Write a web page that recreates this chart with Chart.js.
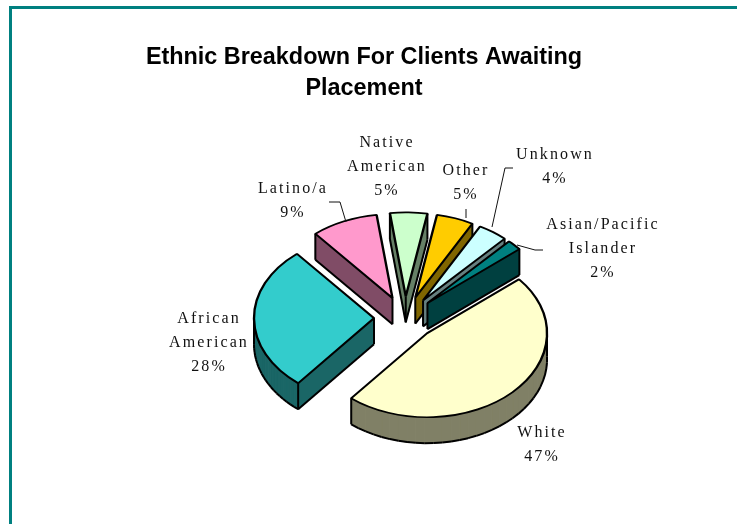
<!DOCTYPE html>
<html>
<head>
<meta charset="utf-8">
<script src="https://cdn.jsdelivr.net/npm/chart.js@4/dist/chart.umd.min.js"></script>
<style>
  html, body { margin: 0; padding: 0; background: #fff; overflow: hidden; }
  #wrap { position: relative; width: 737px; height: 524px; }
  #frame { position: absolute; left: 9px; top: 6px; right: 0; bottom: 0;
           border-top: 3px solid #008080; border-left: 3px solid #008080; }
  canvas { position: absolute; left: 0; top: 0; }
</style>
</head>
<body>
<div id="wrap">
  <div id="frame"></div>
  <canvas id="chart" width="737" height="524"></canvas>
</div>
<script>
const categories = ['White', 'African American', 'Latino/a', 'Native American', 'Other', 'Unknown', 'Asian/Pacific Islander'];
const percents = [47, 28, 9, 5, 5, 4, 2];
const topColors = ['#FFFFCC', '#33CCCC', '#FF99CC', '#CCFFCC', '#FFCC00', '#CCFFFF', '#008080'];
const sideColors = ['#808066', '#1A6666', '#804C66', '#668066', '#806600', '#668080', '#004040'];

// label centres, first line baseline-middle, in page pixels
const labelSpots = [[542, 433], [209, 319], [293, 189], [387, 143], [466, 171], [555, 155], [603, 225]];
const labelGap = 24;
const leaders = [
  [[346, 222], [340, 202], [329, 202]],
  [[466, 218], [466, 209]],
  [[492, 227], [505, 168], [513, 168]],
  [[517, 245], [535, 250], [543, 250]]
];

// fake 3D settings
const centerX = 405, centerY = 318;
const tilt = 0.7;
const explode = 31;
const depth = 26;

const pie3d = {
  id: 'pie3d',
  beforeDatasetDraw(chart) {
    const ctx = chart.ctx;
    const arcs = chart.getDatasetMeta(0).data;
    const order = arcs.map((a, i) => i).sort((a, b) => {
      const mid = i => (arcs[i].startAngle + arcs[i].endAngle) / 2;
      return Math.sin(mid(a)) - Math.sin(mid(b));
    });

    order.forEach(i => {
      const arc = arcs[i];
      const mid = (arc.startAngle + arc.endAngle) / 2;
      const ox = Math.cos(mid) * explode;
      const oy = Math.sin(mid) * explode;
      drawWalls(ctx, arc, ox, oy, sideColors[i]);

      ctx.save();
      ctx.translate(centerX + ox, centerY + oy * tilt);
      ctx.scale(1, tilt);
      ctx.translate(-arc.x, -arc.y);
      arc.draw(ctx);
      ctx.restore();
    });
    return false;
  },
  afterDraw(chart) {
    const ctx = chart.ctx;
    ctx.save();
    ctx.strokeStyle = '#111';
    ctx.lineWidth = 1;
    leaders.forEach(line => {
      ctx.beginPath();
      line.forEach((p, i) => i ? ctx.lineTo(p[0], p[1]) : ctx.moveTo(p[0], p[1]));
      ctx.stroke();
    });
    ctx.fillStyle = '#111';
    ctx.font = '16px "Liberation Serif"';
    ctx.letterSpacing = '2.1px';
    ctx.textAlign = 'center';
    ctx.textBaseline = 'middle';
    categories.forEach((name, i) => {
      const lines = name.split(' ').concat(percents[i] + '%');
      lines.forEach((txt, n) => ctx.fillText(txt, labelSpots[i][0], labelSpots[i][1] + n * labelGap));
    });
    ctx.restore();
  }
};

// side walls of a slice, worked out in page pixels from the arc element
function drawWalls(ctx, arc, ox, oy, color) {
  const r = arc.outerRadius;
  const steps = 40;
  const pts = [{ x: 0, y: 0, corner: true }];
  for (let s = 0; s <= steps; s++) {
    const a = arc.startAngle + (arc.endAngle - arc.startAngle) * s / steps;
    pts.push({ x: Math.cos(a) * r, y: Math.sin(a) * r, corner: s === 0 || s === steps });
  }
  const page = pts.map(p => ({
    x: centerX + ox + p.x,
    y: centerY + (oy + p.y) * tilt,
    corner: p.corner
  }));
  const n = page.length;
  const front = k => page[(k + 1) % n].x < page[k].x;

  ctx.save();
  ctx.fillStyle = color;
  ctx.lineJoin = 'round';
  // same colour stroke closes the hairline seams between the quads
  ctx.strokeStyle = color;
  ctx.lineWidth = 1;
  for (let k = 0; k < n; k++) {
    if (!front(k)) continue;
    const p = page[k], q = page[(k + 1) % n];
    ctx.beginPath();
    ctx.moveTo(p.x, p.y);
    ctx.lineTo(q.x, q.y);
    ctx.lineTo(q.x, q.y + depth);
    ctx.lineTo(p.x, p.y + depth);
    ctx.closePath();
    ctx.fill();
    ctx.stroke();
  }
  ctx.strokeStyle = '#000';
  ctx.lineWidth = 2;
  for (let k = 0; k < n; k++) {
    const p = page[k], q = page[(k + 1) % n];
    if (front(k)) {
      ctx.beginPath();
      ctx.moveTo(p.x, p.y + depth);
      ctx.lineTo(q.x, q.y + depth);
      ctx.stroke();
    }
    const before = front((k - 1 + n) % n), after = front(k);
    if (before !== after || (p.corner && (before || after))) {
      ctx.beginPath();
      ctx.moveTo(p.x, p.y);
      ctx.lineTo(p.x, p.y + depth);
      ctx.stroke();
    }
  }
  ctx.restore();
}

new Chart(document.getElementById('chart'), {
  type: 'pie',
  data: {
    labels: categories,
    datasets: [{
      data: percents,
      backgroundColor: topColors,
      borderColor: '#000',
      borderWidth: 2.4,
      radius: 120
    }]
  },
  options: {
    responsive: false,
    animation: false,
    rotation: 50,
    layout: { padding: { right: 9 } },
    plugins: {
      legend: { display: false },
      tooltip: { enabled: false },
      title: {
        display: true,
        text: ['Ethnic Breakdown For Clients Awaiting', 'Placement'],
        color: '#000',
        font: { family: '"Liberation Sans"', size: 23.4, weight: 'bold', lineHeight: 1.325 },
        padding: { top: 42, bottom: 10 }
      }
    }
  },
  plugins: [pie3d]
});
</script>
</body>
</html>
